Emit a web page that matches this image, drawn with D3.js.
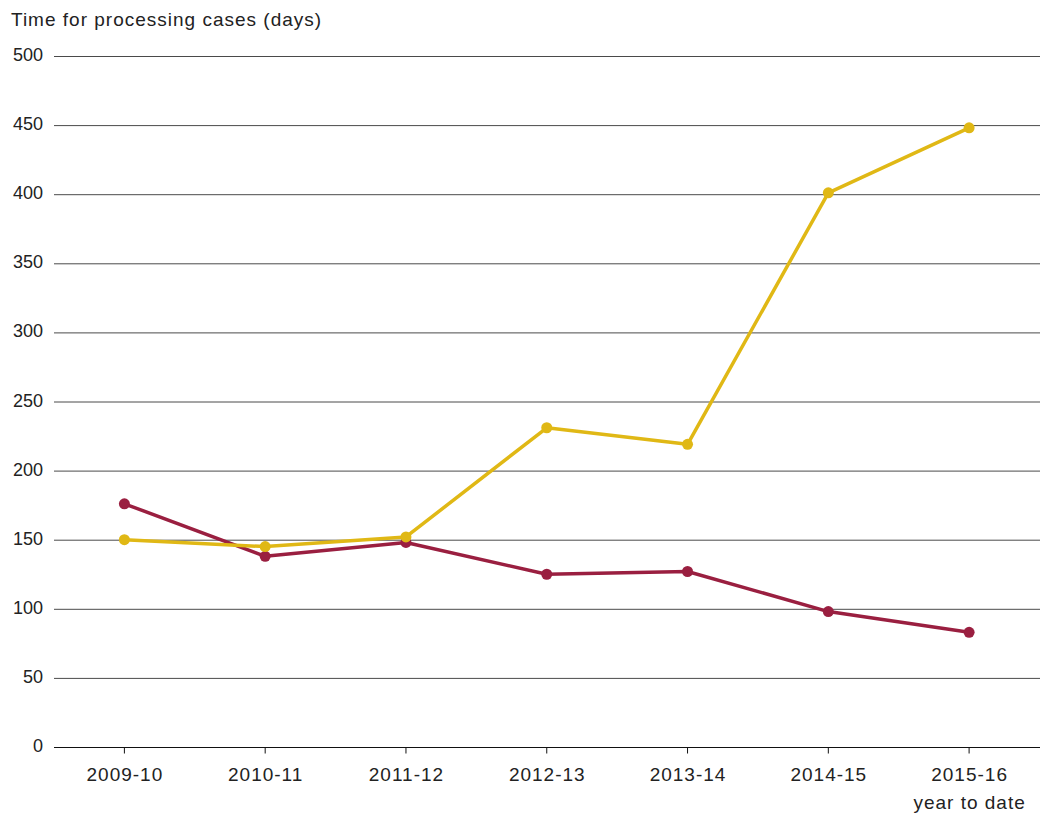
<!DOCTYPE html>
<html>
<head>
<meta charset="utf-8">
<script src="https://cdn.jsdelivr.net/npm/d3@7"></script>
<style>
  html, body { margin: 0; padding: 0; background: #fff; }
  svg text { font-family: "Liberation Sans", Arial, sans-serif; fill: #222; }
</style>
</head>
<body>
<svg id="chart" width="1041" height="816"></svg>
<script>
// Financial years and processing times (days)
const years = ["2009-10", "2010-11", "2011-12", "2012-13", "2013-14", "2014-15", "2015-16"];
const yearSubLabels = ["", "", "", "", "", "", "year to date"];
const seriesRed = [176, 138, 148, 125, 127, 98, 83];
const seriesYellow = [150, 145, 152, 231, 219, 401, 448];
const yTicks = [0, 50, 100, 150, 200, 250, 300, 350, 400, 450, 500];
const yTitle = "Time for processing cases (days)";

const svg = d3.select("#chart");
const margin = { left: 54, right: 1040, top: 56, bottom: 747 };

const x = d3.scaleBand().domain(years).range([margin.left, 1039.5]);
const y = d3.scaleLinear().domain([0, 500]).range([margin.bottom, margin.top]);
const cx = d => x(d) + x.bandwidth() / 2;

// Title
svg.append("text")
  .attr("x", 11).attr("y", 26)
  .attr("font-size", 19)
  .attr("letter-spacing", 1)
  .text(yTitle);

// Horizontal gridlines (0 line drawn as axis)
svg.append("g").selectAll("line")
  .data(yTicks.filter(t => t > 0))
  .join("line")
  .attr("x1", margin.left).attr("x2", margin.right)
  .attr("y1", d => y(d) + 0.5).attr("y2", d => y(d) + 0.5)
  .attr("stroke", "#4a4a4a").attr("stroke-width", 1);

// Y tick labels
svg.append("g").selectAll("text")
  .data(yTicks)
  .join("text")
  .attr("x", 43).attr("y", d => y(d))
  .attr("dy", "0.28em")
  .attr("text-anchor", "end")
  .attr("font-size", 18)
  .text(d => d);

// X axis
const xAxis = d3.axisBottom(x).tickSize(6).tickSizeOuter(0).tickFormat("");
const gx = svg.append("g")
  .attr("transform", `translate(0,${y(0) + 0.5})`)
  .call(xAxis);
gx.select(".domain").attr("stroke", "#111").attr("d", `M${margin.left},0H${margin.right}`);
gx.selectAll(".tick line").attr("stroke", "#111");

const xl = svg.append("g").selectAll("g")
  .data(years)
  .join("g");
xl.append("text")
  .attr("x", d => cx(d) + 0.5).attr("y", 781)
  .attr("text-anchor", "middle")
  .attr("font-size", 19)
  .attr("letter-spacing", 1)
  .text(d => d);
xl.append("text")
  .attr("x", d => cx(d) + 0.5).attr("y", 809)
  .attr("text-anchor", "middle")
  .attr("font-size", 19)
  .attr("letter-spacing", 1)
  .text((d, i) => yearSubLabels[i]);

// Series lines with markers
const line = d3.line().x((d, i) => cx(years[i])).y(d => y(d));
function drawSeries(values, color) {
  svg.append("path")
    .datum(values)
    .attr("d", line)
    .attr("fill", "none")
    .attr("stroke", color)
    .attr("stroke-width", 3.5)
    .attr("stroke-linejoin", "round");
  svg.append("g").selectAll("circle")
    .data(values)
    .join("circle")
    .attr("cx", (d, i) => cx(years[i]))
    .attr("cy", d => y(d))
    .attr("r", 5.5)
    .attr("fill", color);
}
drawSeries(seriesRed, "#9a1f40");
drawSeries(seriesYellow, "#e0b815");
</script>
</body>
</html>
